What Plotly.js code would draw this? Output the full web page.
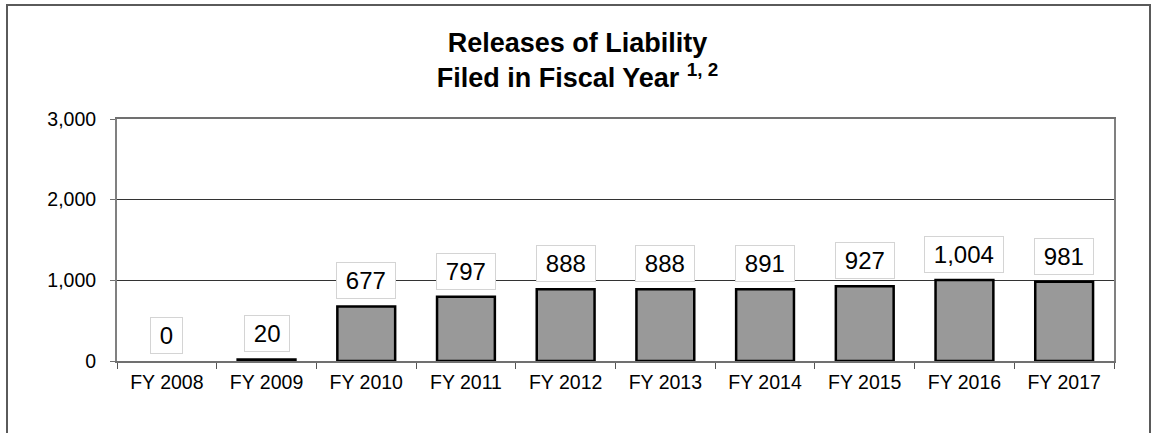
<!DOCTYPE html>
<html>
<head>
<meta charset="utf-8">
<script src="https://cdn.plot.ly/plotly-3.0.1.min.js"></script>
<style>
  html, body { margin: 0; padding: 0; background: #ffffff; }
  #wrap { position: relative; width: 1155px; height: 433px; overflow: hidden; }
  #chart { position: absolute; left: 0; top: 0; width: 1155px; height: 433px; }
  #frame { position: absolute; left: 6px; top: 4px; width: 1141px; height: 500px;
           border: 2px solid #5a5a5a; pointer-events: none; }
</style>
</head>
<body>
<div id="wrap">
  <div id="chart"></div>
  <div id="frame"></div>
</div>
<script>
// ---- data ----
const categories = ["FY 2008", "FY 2009", "FY 2010", "FY 2011", "FY 2012",
                    "FY 2013", "FY 2014", "FY 2015", "FY 2016", "FY 2017"];
const releases = [0, 20, 677, 797, 888, 888, 891, 927, 1004, 981];
const yTickValues = [0, 1000, 2000, 3000];
const yTickLabels = ["0", "1,000", "2,000", "3,000"];
const titleText = "Releases of Liability<br>Filed in Fiscal Year <sup>1, 2</sup>";

const PAD = "\u2009";
const annotations = categories.map((c, i) => ({
  x: c,
  y: releases[i],
  xref: "x",
  yref: "y",
  text: PAD + releases[i].toLocaleString("en-US") + PAD,
  showarrow: false,
  yanchor: "bottom",
  xanchor: "center",
  yshift: 7,
  bgcolor: "#ffffff",
  bordercolor: "#d4d4d4",
  borderwidth: 1,
  borderpad: 4,
  font: { family: "Liberation Sans, Arial, sans-serif", size: 24, color: "#000000" }
}));

const trace = {
  type: "bar",
  x: categories,
  y: releases,
  marker: {
    color: "#999999",
    line: { color: "#000000", width: releases.map(v => (v > 0 ? 2.5 : 0)) }
  },
  hoverinfo: "x+y"
};

const layout = {
  width: 1155,
  height: 433,
  margin: { l: 117, r: 41, t: 119, b: 72 },
  paper_bgcolor: "rgba(0,0,0,0)",
  plot_bgcolor: "#ffffff",
  showlegend: false,
  bargap: 0.42,
  title: {
    text: titleText,
    x: 0.5,
    xref: "container",
    xanchor: "center",
    y: 1 - 52 / 433,
    yref: "container",
    yanchor: "top",
    font: { family: "Liberation Sans, Arial, sans-serif", size: 27, color: "#000000", weight: "bold" }
  },
  font: { family: "Liberation Sans, Arial, sans-serif", color: "#000000" },
  xaxis: {
    type: "category",
    tickson: "boundaries",
    ticks: "outside",
    ticklen: 6,
    tickwidth: 1,
    tickcolor: "#555555",
    showline: true,
    linecolor: "#707070",
    linewidth: 2,
    mirror: true,
    showgrid: false,
    tickfont: { size: 19.5, color: "#000000" },
    ticklabelstandoff: 3
  },
  yaxis: {
    range: [0, 3000],
    tickvals: yTickValues,
    ticktext: yTickLabels,
    ticks: "outside",
    ticklen: 5,
    tickwidth: 1,
    tickcolor: "#707070",
    showline: true,
    linecolor: "#808080",
    linewidth: 2,
    mirror: true,
    showgrid: true,
    gridcolor: "#333333",
    gridwidth: 1,
    zeroline: false,
    tickfont: { size: 19.5, color: "#000000" },
    ticklabelstandoff: 10,
    fixedrange: true
  },
  annotations: annotations
};

Plotly.newPlot("chart", [trace], layout, { displayModeBar: false, staticPlot: true });
</script>
</body>
</html>
